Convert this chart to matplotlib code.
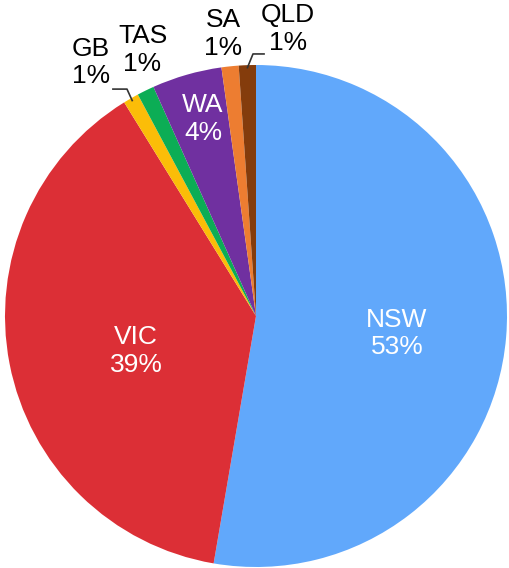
import numpy as np
import matplotlib.pyplot as plt

states = ['NSW', 'VIC', 'GB', 'TAS', 'WA', 'SA', 'QLD']
shares = [52.7, 38.5, 1.0, 1.1, 4.5, 1.1, 1.1]
pct_labels = ['53%', '39%', '1%', '1%', '4%', '1%', '1%']
colors = ['#61a8fb', '#dc2f36', '#fbbd08', '#0cad55', '#7030a0', '#ed7d31', '#843c0c']

# label placement (data units, pie radius = 1)
label_pos = {
    'NSW': (0.562, -0.07),
    'VIC': (-0.478, -0.139),
    'WA': (-0.211, 0.785),
    'GB': (-0.657, 1.01),
    'TAS': (-0.452, 1.06),
    'SA': (-0.131, 1.125),
    'QLD': (0.127, 1.143),
}
inside = {'NSW', 'VIC', 'WA'}

plt.rcParams['font.family'] = ['Liberation Sans', 'DejaVu Sans']

fig = plt.figure(figsize=(5.09, 5.68), dpi=100)
cx, cy, r = 256, 316, 251
ax = fig.add_axes([(cx - r) / 509, (568 - cy - r) / 568, 2 * r / 509, 2 * r / 568])
wedges, _ = ax.pie(shares, colors=colors, startangle=90, counterclock=False,
                   wedgeprops=dict(linewidth=0))
ax.set_xlim(-1, 1)
ax.set_ylim(-1, 1)
ax.set_aspect('equal')
ax.axis('off')

for name, pct in zip(states, pct_labels):
    x, y = label_pos[name]
    ax.text(x, y, name + '\n' + pct, ha='center', va='center', fontsize=19,
            linespacing=1.2, color='white' if name in inside else 'black',
            clip_on=False)

# leader lines for GB and QLD
for name, (lx, ly), kink in [('GB', (-0.57, 0.904), -0.514), ('QLD', (0.032, 1.044), -0.012)]:
    w = wedges[states.index(name)]
    mid = np.deg2rad((w.theta1 + w.theta2) / 2)
    ex, ey = 0.99 * np.cos(mid), 0.99 * np.sin(mid)
    ax.plot([lx, kink, ex], [ly, ly, ey], color='#333333', lw=1.2, clip_on=False)

fig.savefig('out.png', dpi=100)
